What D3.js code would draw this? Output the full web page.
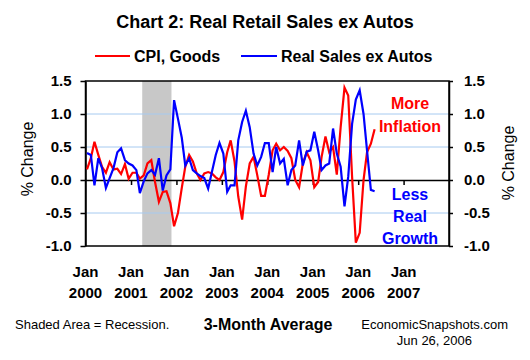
<!DOCTYPE html>
<html>
<head>
<meta charset="utf-8">
<script src="https://cdn.jsdelivr.net/npm/d3@7"></script>
<style>
  html, body { margin: 0; padding: 0; background: #ffffff; }
  svg { display: block; }
  text { font-family: "Liberation Sans", Arial, sans-serif; }
</style>
</head>
<body>
<svg id="chart" width="530" height="360"></svg>
<script>
// ---- Data (monthly, Jan 2000 .. May 2006), 3-month average % change ----
const startYear = 2000;
const cpiGoods = [
  0.16, 0.33, 0.58, 0.38, 0.20, 0.11, 0.27, 0.16, 0.17, 0.09, 0.24, 0.02,
  0.11, 0.11, 0.02, 0.07, 0.25, 0.30, -0.03, -0.33, -0.18, -0.17, -0.35, -0.70,
  -0.50, -0.12, 0.20, 0.38, 0.28, 0.10, 0.00, 0.10, 0.12, 0.10, 0.04, 0.00,
  0.12, 0.42, 0.60, 0.28, -0.25, -0.60, -0.10, 0.25, 0.35, 0.07, -0.24, -0.24,
  0.08, 0.45, 0.55, 0.45, 0.50, 0.44, 0.33, 0.00, -0.11, 0.25, 0.42, 0.30,
  -0.11, -0.03, 0.35, 0.66, 0.42, 0.50, 0.08, 0.80, 1.40, 1.28, 0.05, -0.95,
  -0.80, 0.00, 0.42, 0.55, 0.77
];
const realSales = [
  0.41, 0.38, -0.08, 0.33, 0.18, -0.12, 0.03, 0.18, 0.42, 0.48, 0.30, 0.25,
  0.22, 0.15, -0.20, -0.02, 0.10, 0.15, 0.08, 0.33, -0.16, 0.07, 0.16, 1.21,
  0.93, 0.64, 0.22, 0.33, 0.15, 0.10, 0.06, 0.03, -0.13, 0.12, 0.38, 0.56,
  0.40, -0.18, -0.08, -0.08, 0.60, 0.88, 1.05, 0.80, 0.40, 0.22, 0.35, 0.56,
  0.56, 0.12, 0.50, 0.25, 0.32, -0.08, 0.15, 0.22, 0.60, 0.22, 0.43, 0.45,
  0.73, 0.45, 0.15, 0.22, 0.25, 0.78, 0.40, 0.20, -0.40, 0.05, 0.85, 1.22,
  1.36, 1.00, 0.45, -0.15, -0.17
];
const seriesNames = ["CPI, Goods", "Real Sales ex Autos"];
const yTicks = [-1.0, -0.5, 0.0, 0.5, 1.0, 1.5];
const yearLabels = [2000, 2001, 2002, 2003, 2004, 2005, 2006, 2007];
const recession = [new Date(2001, 3, 1), new Date(2001, 10, 22)];

// ---- Layout ----
const svg = d3.select("#chart");
const L = 85.5, R = 449, T = 81, B = 246;
const font = '"Liberation Sans", Arial, sans-serif';

const x = d3.scaleTime()
  .domain([new Date(2000, 0, 1), new Date(2008, 0, 1)])
  .range([L, R]);
const y = d3.scaleLinear().domain([-1.0, 1.5]).range([B, T]);
const dates = cpiGoods.map((_, i) => new Date(startYear, i, 13));

// recession shading
svg.append("rect")
  .attr("x", x(recession[0])).attr("y", T)
  .attr("width", x(recession[1]) - x(recession[0]))
  .attr("height", B - T)
  .attr("fill", "#c8c8c8");

// gridlines
svg.append("g").selectAll("line")
  .data(yTicks.filter(v => v !== 0 && v !== 1.5 && v !== -1.0))
  .join("line")
  .attr("x1", L).attr("x2", R)
  .attr("y1", d => y(d)).attr("y2", d => y(d))
  .attr("stroke", "#a6caf0").attr("stroke-width", 1);

// frame
svg.append("rect")
  .attr("x", L).attr("y", T).attr("width", R - L).attr("height", B - T)
  .attr("fill", "none").attr("stroke", "#000").attr("stroke-width", 1.5);

// zero line with Jan ticks
const xAxis = d3.axisBottom(x)
  .tickValues(yearLabels.slice(1).map(yr => new Date(yr, 0, 1)))
  .tickSize(5).tickSizeOuter(0).tickFormat("");
const gx = svg.append("g").attr("transform", `translate(0,${y(0)})`).call(xAxis);
gx.select(".domain").attr("stroke", "#000").attr("stroke-width", 1.5);
gx.selectAll(".tick line").attr("stroke", "#000").attr("stroke-width", 1.5);

// y axes
const fmt = d => d.toFixed(1);
const gl = svg.append("g").attr("transform", `translate(${L},0)`)
  .call(d3.axisLeft(y).tickValues(yTicks).tickFormat(fmt).tickSize(5).tickSizeOuter(0).tickPadding(9));
const gr = svg.append("g").attr("transform", `translate(${R},0)`)
  .call(d3.axisRight(y).tickValues(yTicks).tickFormat(fmt).tickSize(4).tickSizeOuter(0).tickPadding(11));
[gl, gr].forEach(g => {
  g.select(".domain").attr("stroke", "#000").attr("stroke-width", 1.5);
  g.selectAll(".tick line").attr("stroke", "#000").attr("stroke-width", 1.5);
  g.selectAll(".tick text")
    .attr("font-family", font).attr("font-size", 15).attr("font-weight", "bold")
    .attr("fill", "#000");
});

// lines
const line = d3.line().x((d, i) => x(dates[i])).y(d => y(d));
svg.append("path").datum(cpiGoods)
  .attr("d", line).attr("fill", "none").attr("stroke", "#ff0000").attr("stroke-width", 2.2);
svg.append("path").datum(realSales)
  .attr("d", line).attr("fill", "none").attr("stroke", "#0000ff").attr("stroke-width", 2.2);

// x labels
const xl = svg.append("g").selectAll("text").data(yearLabels).join("text")
  .attr("x", d => x(new Date(d, 0, 1)))
  .attr("text-anchor", "middle")
  .attr("font-family", font).attr("font-size", 15).attr("font-weight", "bold");
xl.append("tspan").attr("x", d => x(new Date(d, 0, 1))).attr("y", 277).text("Jan");
xl.append("tspan").attr("x", d => x(new Date(d, 0, 1))).attr("y", 298).text(d => d);

// title
svg.append("text").attr("x", 265).attr("y", 28).attr("text-anchor", "middle")
  .attr("font-family", font).attr("font-size", 18).attr("font-weight", "bold")
  .text("Chart 2: Real Retail Sales ex Autos");

// legend
const legend = [
  { name: seriesNames[0], color: "#ff0000", x1: 95, x2: 130, tx: 134 },
  { name: seriesNames[1], color: "#0000ff", x1: 241, x2: 277, tx: 281 }
];
legend.forEach(l => {
  svg.append("line").attr("x1", l.x1).attr("x2", l.x2).attr("y1", 56).attr("y2", 56)
    .attr("stroke", l.color).attr("stroke-width", 2);
  svg.append("text").attr("x", l.tx).attr("y", 62)
    .attr("font-family", font).attr("font-size", 16).attr("font-weight", "bold")
    .text(l.name);
});

// axis titles
svg.append("text").attr("transform", "translate(33,159) rotate(-90)")
  .attr("text-anchor", "middle").attr("font-family", font).attr("font-size", 16)
  .text("% Change");
svg.append("text").attr("transform", "translate(514,163) rotate(-90)")
  .attr("text-anchor", "middle").attr("font-family", font).attr("font-size", 16)
  .text("% Change");

// annotations
const ann = [
  { t: "More", y: 109, c: "#ff0000" }, { t: "Inflation", y: 132, c: "#ff0000" },
  { t: "Less", y: 200, c: "#0000ff" }, { t: "Real", y: 222, c: "#0000ff" },
  { t: "Growth", y: 244, c: "#0000ff" }
];
svg.append("g").selectAll("text").data(ann).join("text")
  .attr("x", 410).attr("y", d => d.y).attr("text-anchor", "middle")
  .attr("font-family", font).attr("font-size", 16).attr("font-weight", "bold")
  .attr("fill", d => d.c).text(d => d.t);

// footer
svg.append("text").attr("x", 15).attr("y", 329)
  .attr("font-family", font).attr("font-size", 13).text("Shaded Area = Recession.");
svg.append("text").attr("x", 268).attr("y", 330).attr("text-anchor", "middle")
  .attr("font-family", font).attr("font-size", 16).attr("font-weight", "bold")
  .text("3-Month Average");
svg.append("text").attr("x", 508).attr("y", 329).attr("text-anchor", "end")
  .attr("font-family", font).attr("font-size", 13).text("EconomicSnapshots.com");
svg.append("text").attr("x", 472).attr("y", 345).attr("text-anchor", "end")
  .attr("font-family", font).attr("font-size", 13).text("Jun 26, 2006");
</script>
</body>
</html>
